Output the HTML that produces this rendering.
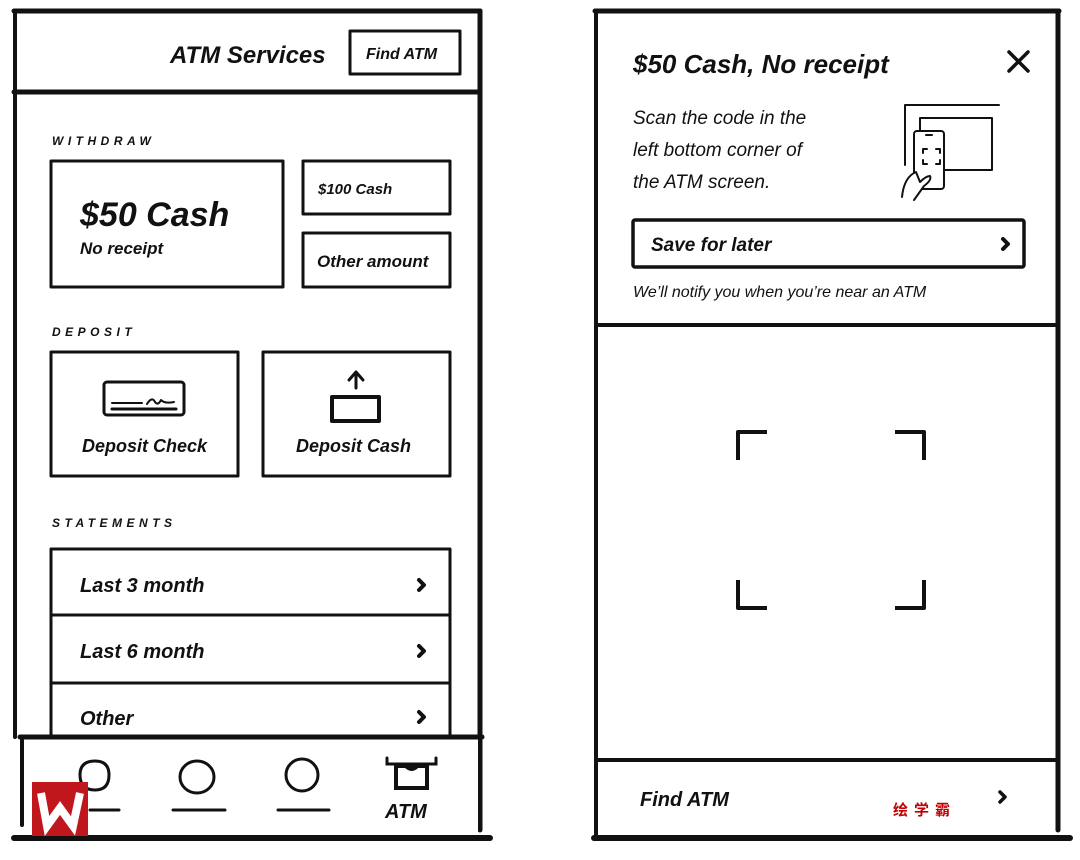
<!DOCTYPE html>
<html><head><meta charset="utf-8"><style>
html,body{margin:0;padding:0;background:#fff;}
svg{display:block;}
text{font-family:"Liberation Sans",sans-serif;font-style:italic;font-weight:bold;fill:#111;}
.n{font-weight:normal;}
</style></head><body>
<svg width="1080" height="860" viewBox="0 0 1080 860" xmlns="http://www.w3.org/2000/svg">
<g stroke="#111" fill="none" stroke-linecap="round" stroke-linejoin="round">
<line x1="14" y1="11" x2="480" y2="11" stroke-width="5"/>
<line x1="15" y1="11" x2="15" y2="737" stroke-width="4"/>
<line x1="480" y1="11" x2="480" y2="830" stroke-width="5"/>
<line x1="14" y1="92" x2="480" y2="92" stroke-width="5"/>
<rect x="350" y="31" width="110" height="43" stroke-width="3"/>
<rect x="51" y="161" width="232" height="126" stroke-width="3"/>
<rect x="303" y="161" width="147" height="53" stroke-width="3"/>
<rect x="303" y="233" width="147" height="54" stroke-width="3"/>
<rect x="51" y="352" width="187" height="124" stroke-width="3"/>
<rect x="263" y="352" width="187" height="124" stroke-width="3"/>
<rect x="104" y="382" width="80" height="33" rx="3" stroke-width="3"/>
<line x1="112" y1="403" x2="142" y2="403" stroke-width="2"/>
<line x1="112" y1="409" x2="176" y2="409" stroke-width="3"/>
<path d="M147 404 q5 -8 8 -2 q3 4 6 -2 q4 4 13 2" stroke-width="2"/>
<line x1="356" y1="388" x2="356" y2="374" stroke-width="3"/>
<path d="M349 380 L356 372 L363 380" stroke-width="3"/>
<rect x="332" y="397" width="47" height="24" stroke-width="4"/>
<rect x="51" y="549" width="399" height="200" stroke-width="3"/>
<line x1="51" y1="615" x2="450" y2="615" stroke-width="3"/>
<line x1="51" y1="683" x2="450" y2="683" stroke-width="3"/>
<path d="M419 580 L424 585 L419 590" stroke-width="4"/>
<path d="M419 646 L424 651 L419 656" stroke-width="4"/>
<path d="M419 712 L424 717 L419 722" stroke-width="4"/>
</g>
<rect x="22" y="739" width="456" height="96" fill="#fff"/>
<g stroke="#111" fill="none" stroke-linecap="round" stroke-width="4">
<line x1="20" y1="737" x2="482" y2="737" stroke-width="5"/>
<line x1="22" y1="737" x2="22" y2="825"/>
<line x1="14" y1="838" x2="490" y2="838" stroke-width="6"/>
<path d="M80 775 q0 -14 15 -14 q14 0 14 14 q0 15 -14 15 q-15 0 -15 -15z" stroke-width="3"/>
<ellipse cx="197" cy="777" rx="17" ry="16" stroke-width="3"/>
<ellipse cx="302" cy="775" rx="16" ry="16" stroke-width="3"/>
<line x1="90" y1="810" x2="119" y2="810" stroke-width="3"/>
<line x1="173" y1="810" x2="225" y2="810" stroke-width="3"/>
<line x1="278" y1="810" x2="329" y2="810" stroke-width="3"/>
<path d="M387 758 V764 H436 V758" stroke-width="3"/>
<rect x="396" y="766" width="31" height="22" stroke-width="4"/>
</g>
<path d="M404 767 h15 q-7 8 -15 0z" fill="#111"/>
<g stroke="#111" fill="none" stroke-linecap="round" stroke-linejoin="round">
<line x1="595" y1="11" x2="1059" y2="11" stroke-width="5"/>
<line x1="596" y1="11" x2="596" y2="838" stroke-width="4"/>
<line x1="1058" y1="11" x2="1058" y2="830" stroke-width="5"/>
<line x1="596" y1="325" x2="1055" y2="325" stroke-width="4"/>
<line x1="596" y1="760" x2="1055" y2="760" stroke-width="4"/>
<path d="M1009 52 L1028 71 M1028 52 L1009 71" stroke-width="3.5"/>
<rect x="633" y="220" width="391" height="47" rx="2" stroke-width="3.5"/>
<path d="M1003 239 L1008 244 L1003 249" stroke-width="4"/>
<path d="M1000 792 L1005 797 L1000 802" stroke-width="3.5"/>
<path d="M905 165 V105 H999" stroke-width="2"/>
<rect x="920" y="118" width="72" height="52" stroke-width="2"/>
<rect x="914" y="131" width="30" height="58" rx="3" fill="#fff" stroke-width="2"/>
<line x1="926" y1="135" x2="932" y2="135" stroke-width="2"/>
<path d="M923 153 v-4 h4 M936 149 h4 v4 M923 160 v4 h4 M936 164 h4 v-4" stroke-width="2"/>
<path d="M902 197 q2 -20 14 -25 l4 10 q6 -6 10 -6 q2 4 -6 10 l-10 14" stroke-width="2" fill="#fff"/>
<path d="M738 460 V432 H767" stroke-width="4" stroke-linecap="butt"/>
<path d="M895 432 H924 V460" stroke-width="4" stroke-linecap="butt"/>
<path d="M738 580 V608 H767" stroke-width="4" stroke-linecap="butt"/>
<path d="M895 608 H924 V580" stroke-width="4" stroke-linecap="butt"/>
</g>
<text x="170" y="63" font-size="24">ATM Services</text>
<text x="366" y="59" font-size="16">Find ATM</text>
<text x="52" y="145" font-size="12" letter-spacing="4.5">WITHDRAW</text>
<text x="80" y="226" font-size="34">$50 Cash</text>
<text x="80" y="254" font-size="17">No receipt</text>
<text x="318" y="194" font-size="15">$100 Cash</text>
<text x="317" y="267" font-size="17">Other amount</text>
<text x="52" y="336" font-size="12" letter-spacing="4.5">DEPOSIT</text>
<text x="82" y="452" font-size="18">Deposit Check</text>
<text x="296" y="452" font-size="18">Deposit Cash</text>
<text x="52" y="527" font-size="12" letter-spacing="4.5">STATEMENTS</text>
<text x="80" y="592" font-size="20">Last 3 month</text>
<text x="80" y="658" font-size="20">Last 6 month</text>
<text x="80" y="725" font-size="20">Other</text>
<text x="385" y="818" font-size="20">ATM</text>
<text x="633" y="73" font-size="26">$50 Cash, No receipt</text>
<text x="633" y="124" font-size="19" class="n">Scan the code in the</text>
<text x="633" y="156" font-size="19" class="n">left bottom corner of</text>
<text x="633" y="188" font-size="19" class="n">the ATM screen.</text>
<text x="651" y="251" font-size="19">Save for later</text>
<text x="633" y="297" font-size="16" class="n">We’ll notify you when you’re near an ATM</text>
<text x="640" y="806" font-size="20">Find ATM</text>
<rect x="810" y="818" width="245" height="16" fill="#fff"/>
<line x1="594" y1="838" x2="1070" y2="838" stroke="#111" stroke-width="6" stroke-linecap="round"/>
<text x="893" y="815" font-size="15" style="font-family:'Noto Sans CJK SC',sans-serif;font-style:normal;fill:#c00000" letter-spacing="6">绘学霸</text>
<rect x="32" y="782" width="56" height="54" fill="#c0171c"/>
<path d="M41 793 L47 826 L60 808 L73 826 L80 793" stroke="#fff" stroke-width="8" fill="none" stroke-linejoin="miter"/>
</svg>
</body></html>
